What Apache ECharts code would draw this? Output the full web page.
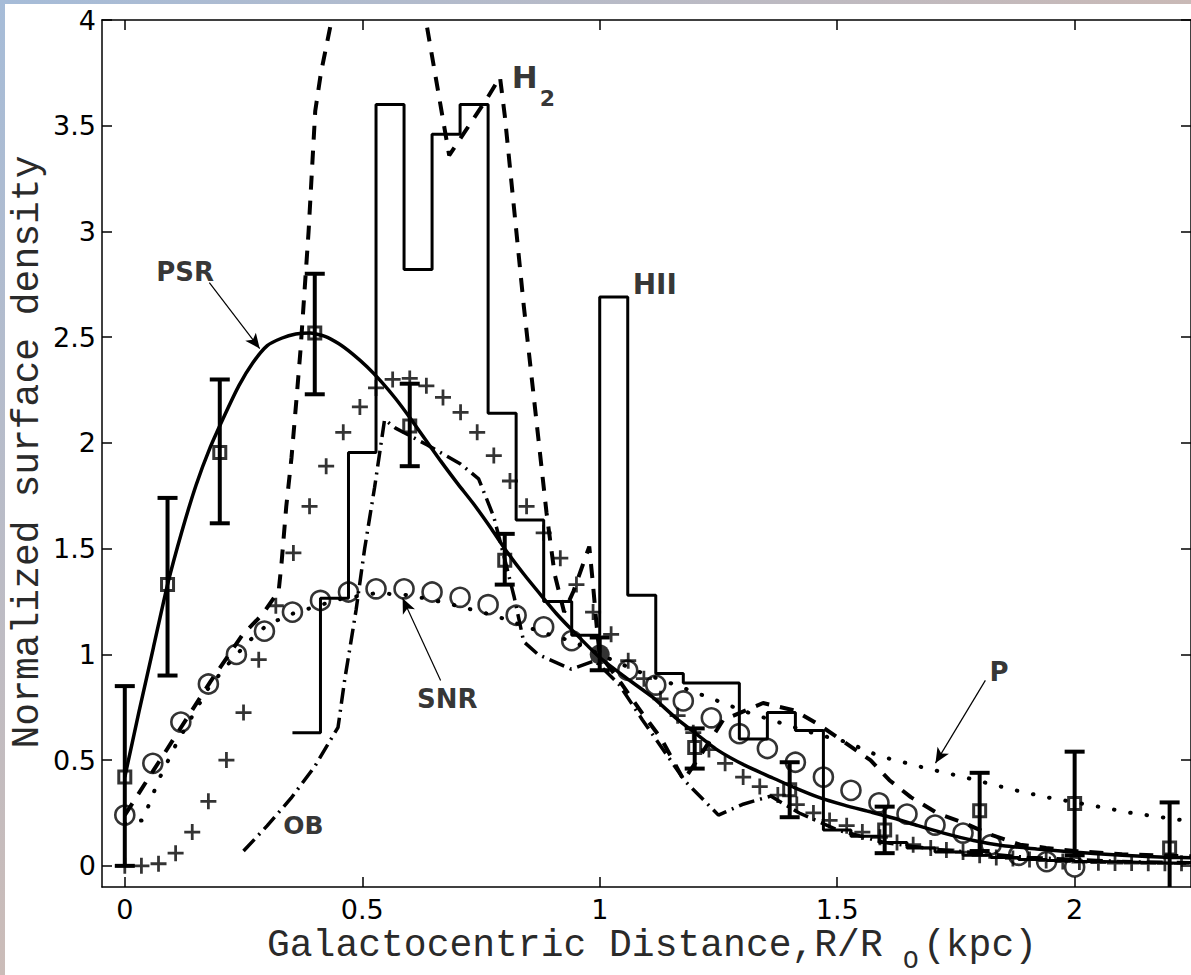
<!DOCTYPE html>
<html><head><meta charset="utf-8">
<script src="https://cdn.jsdelivr.net/npm/echarts@6/dist/echarts.min.js"></script>
<style>html,body{margin:0;padding:0;background:#fff}#c{width:1191px;height:975px}</style>
</head><body><div id="c"></div>
<script>
// ---------------- data ----------------
const xTicks = [0, 0.5, 1, 1.5, 2];
const yTicks = [0, 0.5, 1, 1.5, 2, 2.5, 3, 3.5, 4];

// PSR model curve (solid)
const psrModel = [[0,0.42],[0.03,0.73],[0.06,1.03],[0.09,1.33],[0.12,1.58],[0.15,1.8],[0.18,1.98],[0.21,2.13],[0.24,2.27],[0.27,2.38],[0.30,2.46],[0.33,2.495],[0.36,2.515],[0.39,2.52],[0.42,2.505],[0.45,2.47],[0.48,2.42],[0.51,2.36],[0.54,2.29],[0.57,2.21],[0.6,2.12],[0.665,1.915],[0.7,1.81],[0.735,1.71],[0.77,1.6],[0.8,1.5],[0.84,1.38],[0.88,1.27],[0.91,1.19],[0.944,1.11],[1.0,0.985],[1.055,0.89],[1.11,0.80],[1.16,0.70],[1.2,0.63],[1.25,0.545],[1.306,0.475],[1.36,0.42],[1.41,0.37],[1.46,0.325],[1.515,0.287],[1.57,0.255],[1.62,0.225],[1.67,0.19],[1.724,0.155],[1.787,0.12],[1.85,0.095],[1.92,0.08],[1.996,0.065],[2.1,0.05],[2.205,0.04],[2.245,0.038]];

// PSR binned data with error bars
const psrX    = [0, 0.09, 0.2, 0.4, 0.6, 0.8, 1.2, 1.4, 1.6, 1.8, 2.0, 2.2];
const psrY    = [0.42, 1.33, 1.955, 2.52, 2.08, 1.445, 0.56, 0.36, 0.17, 0.26, 0.295, 0.084];
const psrLow  = [0, 0.9, 1.62, 2.23, 1.89, 1.33, 0.46, 0.23, 0.06, 0.07, 0.05, -0.14];
const psrHigh = [0.85, 1.74, 2.3, 2.8, 2.28, 1.57, 0.65, 0.49, 0.28, 0.44, 0.54, 0.30];

// normalisation point (filled circle) with error bar
const normX = [1.0], normY = [1.0], normLow = [0.925], normHigh = [1.08];

// SNR (open circles)
const snrX = [0,0.059,0.118,0.176,0.235,0.294,0.353,0.412,0.471,0.529,0.588,0.647,0.706,0.765,0.824,0.882,0.941,1.059,1.118,1.176,1.235,1.294,1.353,1.412,1.471,1.529,1.588,1.647,1.706,1.765,1.824,1.882,1.941,2.0];
const snrY = [0.24,0.485,0.68,0.86,1.0,1.11,1.2,1.255,1.295,1.31,1.31,1.295,1.27,1.235,1.185,1.13,1.065,0.925,0.855,0.78,0.70,0.625,0.555,0.49,0.42,0.357,0.298,0.245,0.193,0.155,0.10,0.05,0.02,-0.005];

// "+" markers
const plusPts = [[0,0],[0.035,0.0],[0.071,0.01],[0.107,0.06],[0.142,0.16],[0.176,0.305],[0.214,0.5],[0.25,0.725],[0.282,0.975],[0.318,1.23],[0.355,1.48],[0.389,1.70],[0.424,1.89],[0.46,2.05],[0.495,2.17],[0.529,2.26],[0.564,2.30],[0.6,2.305],[0.635,2.27],[0.67,2.215],[0.707,2.145],[0.742,2.05],[0.777,1.94],[0.811,1.82],[0.846,1.70],[0.882,1.575],[0.917,1.455],[0.951,1.33],[0.986,1.20],[1.024,1.095],[1.06,0.97],[1.093,0.885],[1.128,0.79],[1.164,0.71],[1.197,0.63],[1.23,0.55],[1.264,0.485],[1.302,0.42],[1.337,0.375],[1.375,0.335],[1.415,0.29],[1.45,0.25],[1.484,0.215],[1.52,0.19],[1.553,0.16],[1.59,0.135],[1.626,0.11],[1.66,0.10],[1.697,0.085],[1.73,0.075],[1.765,0.065],[1.8,0.05],[1.835,0.04],[1.87,0.035],[1.905,0.03],[1.94,0.025],[1.975,0.02],[2.01,0.018],[2.05,0.015],[2.085,0.013],[2.12,0.013],[2.155,0.012],[2.19,0.012],[2.225,0.012]];

// HII histogram (bin width 1/17)
const hiiEdges  = [0.353,0.412,0.471,0.529,0.588,0.647,0.706,0.765,0.824,0.882,0.941,1.0,1.059,1.118,1.176,1.235,1.294,1.353,1.412,1.471,1.529,1.588,1.647,1.706,1.765,1.824,1.882,1.941,2.0,2.059,2.118,2.176,2.235];
const hiiValues = [0.63,1.265,1.955,3.6,2.82,3.46,3.6,2.14,1.635,1.25,1.09,2.69,1.28,0.91,0.865,0.865,0.60,0.725,0.64,0.17,0.14,0.11,0.085,0.065,0.05,0.04,0.03,0.025,0.02,0.018,0.015,0.012];

// H2 (dashed)
const h2Curve = [[0,0.24],[0.06,0.45],[0.12,0.66],[0.18,0.87],[0.247,1.09],[0.29,1.19],[0.324,1.30],[0.33,1.43],[0.34,1.70],[0.351,1.93],[0.362,2.22],[0.37,2.44],[0.387,3.0],[0.401,3.57],[0.413,3.75],[0.44,4.05],[0.5,4.6],[0.57,4.7],[0.63,4.05],[0.683,3.36],[0.763,3.63],[0.79,3.73],[0.80,3.55],[0.84,2.65],[0.888,1.67],[0.905,1.38],[0.925,1.2],[0.945,1.3],[0.978,1.51],[0.985,1.35],[0.995,1.1],[1.0,1.0],[1.04,0.88],[1.09,0.72],[1.13,0.6],[1.177,0.405],[1.22,0.55],[1.26,0.69],[1.344,0.77],[1.41,0.735],[1.46,0.67],[1.515,0.585],[1.57,0.5],[1.61,0.405],[1.655,0.325],[1.71,0.25],[1.77,0.2],[1.82,0.15],[1.885,0.1],[1.94,0.085],[2.0,0.07],[2.1,0.055],[2.245,0.045]];

// OB (dash-dot)
const obCurve = [[0.25,0.07],[0.3,0.19],[0.35,0.32],[0.4,0.47],[0.449,0.655],[0.463,0.88],[0.474,1.03],[0.487,1.21],[0.505,1.5],[0.526,1.79],[0.547,2.11],[0.57,2.07],[0.637,1.99],[0.707,1.9],[0.745,1.83],[0.777,1.65],[0.80,1.45],[0.82,1.27],[0.84,1.06],[0.87,1.0],[0.94,0.93],[0.99,0.97],[1.04,0.86],[1.09,0.69],[1.18,0.40],[1.25,0.24],[1.30,0.29],[1.36,0.33],[1.42,0.25],[1.5,0.17],[1.6,0.11],[1.7,0.08],[1.8,0.06],[1.9,0.04],[2.0,0.03],[2.1,0.02],[2.245,0.015]];

// P (dotted)
const pCurve = [[0.0,0.2],[0.038,0.216],[0.071,0.405],[0.108,0.575],[0.176,0.84],[0.212,0.94],[0.26,1.06],[0.3,1.14],[0.35,1.19],[0.45,1.26],[0.53,1.29],[0.6,1.28],[0.673,1.245],[0.777,1.185],[0.846,1.13],[0.885,1.10],[0.945,1.06],[1.0,1.0],[1.08,0.92],[1.166,0.85],[1.237,0.79],[1.306,0.73],[1.375,0.68],[1.446,0.63],[1.52,0.585],[1.588,0.52],[1.69,0.46],[1.766,0.42],[1.87,0.36],[1.94,0.325],[2.05,0.28],[2.12,0.25],[2.245,0.21]];

// annotations (text, anchor in data units)
const annText = ['PSR', 'H', '2', 'HII', 'SNR', 'OB', 'P'];
const annX    = [0.127, 0.842, 0.89, 1.116, 0.679, 0.376, 1.841];
const annY    = [2.81, 3.73, 3.63, 2.75, 0.79, 0.19, 0.915];
const arrowFrom = [[0.178, 2.758], [0.665, 0.877], [1.812, 0.877]];
const arrowTo   = [[0.284, 2.446], [0.585, 1.265], [1.707, 0.486]];

// ---------------- chart ----------------
const annFont = [26, 31, 22, 28, 26, 25, 26];
const X_MIN = -0.048, X_MAX = 2.245, Y_MIN = -0.1, Y_MAX = 4;

const hiiData = hiiEdges.map((e, i) => [e, i < hiiValues.length ? hiiValues[i] : hiiValues[hiiValues.length - 1]]);
const errData = psrX.map((x, i) => [x, psrLow[i], psrHigh[i]]).concat(normX.map((x, i) => [x, normLow[i], normHigh[i]]));

const chart = echarts.init(document.getElementById('c'), null, {renderer: 'svg', width: 1191, height: 975});

const axisCommon = {
  type: 'value', min: X_MIN, max: X_MAX,
  axisLine: {show: true, onZero: false, lineStyle: {color: '#000', width: 1.5}},
  axisTick: {show: true, inside: true, length: 10, customValues: xTicks, lineStyle: {color: '#000', width: 1.5}},
  splitLine: {show: false}
};

const option = {
  animation: false,
  backgroundColor: '#fff',
  grid: {left: 102, top: 20, right: -8, bottom: 88, containLabel: false},
  xAxis: [
    Object.assign({}, axisCommon, {position: 'bottom',
      axisLabel: {show: true, customValues: xTicks, margin: 11, color: '#000', fontSize: 27, lineHeight: 22, fontFamily: 'DejaVu Sans', formatter: v => String(v)}}),
    Object.assign({}, axisCommon, {position: 'top', axisLabel: {show: false}})
  ],
  yAxis: [
    {type: 'value', min: Y_MIN, max: Y_MAX, position: 'left',
      axisLine: {show: true, onZero: false, lineStyle: {color: '#000', width: 1.5}},
      axisTick: {show: true, inside: true, length: 10, customValues: yTicks, lineStyle: {color: '#000', width: 1.5}},
      axisLabel: {show: true, customValues: yTicks, margin: 6, color: '#000', fontSize: 27, lineHeight: 22, fontFamily: 'DejaVu Sans', formatter: v => String(v)},
      splitLine: {show: false}},
    {type: 'value', min: Y_MIN, max: Y_MAX, position: 'right',
      axisLine: {show: true, onZero: false, lineStyle: {color: '#000', width: 1.5}},
      axisTick: {show: true, inside: true, length: 10, customValues: yTicks, lineStyle: {color: '#000', width: 1.5}},
      axisLabel: {show: false}, splitLine: {show: false}}
  ],
  graphic: [
    {type: 'rect', shape: {x: 0, y: 0, width: 5, height: 975}, silent: true,
      style: {fill: new echarts.graphic.LinearGradient(0, 0, 0, 1, [{offset: 0, color: '#a6bcd8'}, {offset: 1, color: '#cbbcb8'}])}},
    {type: 'rect', shape: {x: 0, y: 0, width: 1191, height: 4}, silent: true,
      style: {fill: new echarts.graphic.LinearGradient(0, 0, 1, 0, [{offset: 0, color: '#a6bcd8'}, {offset: 1, color: '#c9b9b6'}])}},
    {type: 'text', x: 27, y: 452, rotation: Math.PI / 2, silent: true,
      style: {text: 'Normalized surface density', font: '38px "Liberation Mono"', lineHeight: 30, fill: '#2a2a2a', align: 'center', verticalAlign: 'middle'}},
    {type: 'text', x: 267, y: 945, silent: true,
      style: {text: 'Galactocentric Distance,R/R', font: '38px "Liberation Mono"', lineHeight: 28, fill: '#2a2a2a', align: 'left', verticalAlign: 'middle'}},
    {type: 'text', x: 903, y: 961, silent: true,
      style: {text: 'O', font: '26px "Liberation Mono"', lineHeight: 20, fill: '#2a2a2a', align: 'left', verticalAlign: 'middle'}},
    {type: 'text', x: 923, y: 945, silent: true,
      style: {text: '(kpc)', font: '38px "Liberation Mono"', lineHeight: 28, fill: '#2a2a2a', align: 'left', verticalAlign: 'middle'}}
  ],
  series: [
    {name: 'HII', type: 'line', data: hiiData, step: 'end', showSymbol: false, symbol: 'none',
      lineStyle: {color: '#000', width: 3}, z: 2},
    {name: 'H2', type: 'line', data: h2Curve, showSymbol: false, symbol: 'none',
      lineStyle: {color: '#000', width: 4, type: [14, 11]}, z: 2},
    {name: 'OB', type: 'line', data: obCurve, showSymbol: false, symbol: 'none',
      lineStyle: {color: '#000', width: 3.5, type: [16, 6, 2, 6]}, z: 2},
    {name: 'P', type: 'line', data: pCurve, showSymbol: false, symbol: 'none',
      lineStyle: {color: '#000', width: 4, type: [0.5, 16], cap: 'round'}, z: 2},
    {name: 'PSR model', type: 'line', data: psrModel, showSymbol: false, symbol: 'none', smooth: 0.2,
      lineStyle: {color: '#000', width: 3.5}, z: 3},
    {name: 'PSR errors', type: 'custom', data: errData, clip: true, z: 4,
      renderItem: function (params, api) {
        const x = api.value(0), lo = api.value(1), hi = api.value(2);
        const a = api.coord([x, lo]), b = api.coord([x, hi]);
        const w = 10, st = {stroke: '#000', lineWidth: 4};
        return {type: 'group', children: [
          {type: 'line', shape: {x1: a[0], y1: a[1], x2: b[0], y2: b[1]}, style: st},
          {type: 'line', shape: {x1: a[0] - w, y1: a[1], x2: a[0] + w, y2: a[1]}, style: st},
          {type: 'line', shape: {x1: b[0] - w, y1: b[1], x2: b[0] + w, y2: b[1]}, style: st}
        ]};
      }},
    {name: 'PSR data', type: 'scatter', data: psrX.map((x, i) => [x, psrY[i]]), symbol: 'rect', symbolSize: 12,
      itemStyle: {color: 'rgba(0,0,0,0)', borderColor: '#000', borderWidth: 3}, z: 5},
    {name: 'SNR', type: 'scatter', data: snrX.map((x, i) => [x, snrY[i]]), symbol: 'circle', symbolSize: 19,
      itemStyle: {color: 'rgba(0,0,0,0)', borderColor: '#000', borderWidth: 2.6}, z: 5},
    {name: 'norm', type: 'scatter', data: normX.map((x, i) => [x, normY[i]]), symbol: 'circle', symbolSize: 20,
      itemStyle: {color: '#000'}, z: 6},
    {name: 'plus', type: 'scatter', data: plusPts,
      symbol: 'path://M-1.3,-7.5H1.3V-1.3H7.5V1.3H1.3V7.5H-1.3V1.3H-7.5V-1.3H-1.3Z', symbolSize: 16,
      itemStyle: {color: '#000'}, z: 5},
    {name: 'labels', type: 'scatter', symbolSize: 1, itemStyle: {color: 'rgba(0,0,0,0)'}, z: 7,
      data: annText.map((t, i) => ({name: t, value: [annX[i], annY[i]],
        label: {show: true, position: 'inside', formatter: '{b}', color: '#000', fontFamily: 'DejaVu Sans', fontWeight: 'bold', fontSize: annFont[i]}})),
      markLine: {silent: true, symbol: ['none', 'arrow'], symbolSize: [10, 15], animation: false,
        lineStyle: {color: '#000', width: 1.2, type: 'solid'}, label: {show: false},
        data: arrowFrom.map((f, i) => [{coord: f}, {coord: arrowTo[i]}])}}
  ]
};
chart.setOption(option);
</script>
</body></html>
